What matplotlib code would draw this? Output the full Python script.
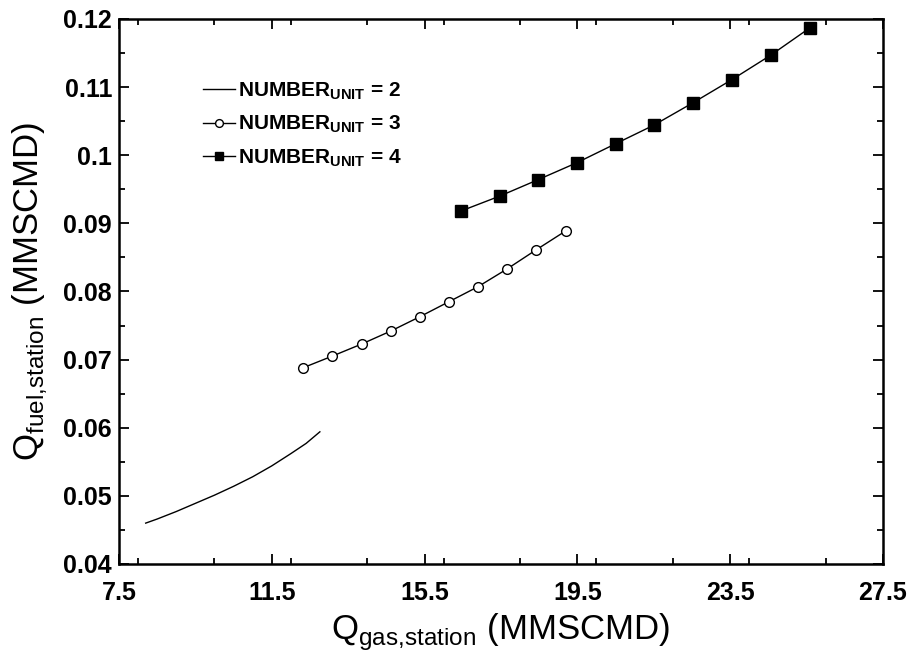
import matplotlib
matplotlib.use("Agg")
import matplotlib.pyplot as plt
from matplotlib.ticker import MultipleLocator, FixedLocator

plt.rcParams['font.family'] = ['Liberation Sans', 'DejaVu Sans']
plt.rcParams['mathtext.fontset'] = 'custom'
plt.rcParams['mathtext.rm'] = 'Liberation Sans'
plt.rcParams['mathtext.bf'] = 'Liberation Sans:bold'

# Series data
x_unit2 = [8.2, 8.5, 9.0, 9.5, 10.0, 10.5, 11.0, 11.5, 12.0, 12.4, 12.76]
y_unit2 = [0.0460, 0.0466, 0.0477, 0.0489, 0.0501, 0.0514, 0.0528, 0.0544, 0.0562, 0.0577, 0.0594]

x_unit3 = [12.32, 13.08, 13.86, 14.62, 15.38, 16.14, 16.90, 17.66, 18.42, 19.20]
y_unit3 = [0.0688, 0.0705, 0.0723, 0.0742, 0.0763, 0.0785, 0.0807, 0.0833, 0.0861, 0.0889]

x_unit4 = [16.45, 17.47, 18.47, 19.49, 20.51, 21.50, 22.53, 23.55, 24.57, 25.59]
y_unit4 = [0.0918, 0.0940, 0.0964, 0.0989, 0.1017, 0.1044, 0.1077, 0.1111, 0.1147, 0.1187]

x_ticks = [7.5, 11.5, 15.5, 19.5, 23.5, 27.5]
y_ticks = [0.04, 0.05, 0.06, 0.07, 0.08, 0.09, 0.1, 0.11, 0.12]
y_tick_labels = ['0.04', '0.05', '0.06', '0.07', '0.08', '0.09', '0.1', '0.11', '0.12']

labels = [r'NUMBER$_{\mathbf{UNIT}}$ = 2', r'NUMBER$_{\mathbf{UNIT}}$ = 3', r'NUMBER$_{\mathbf{UNIT}}$ = 4']

fig = plt.figure(figsize=(9.13, 6.53), dpi=100)
ax = fig.add_axes([0.1303, 0.1363, 0.8367, 0.8347])

ax.plot(x_unit2, y_unit2, color='black', lw=1.0, label=labels[0])
ax.plot(x_unit3, y_unit3, color='black', lw=1.0, marker='o', markersize=7,
        markerfacecolor='white', markeredgecolor='black', markeredgewidth=1.0, label=labels[1])
ax.plot(x_unit4, y_unit4, color='black', lw=1.0, marker='s', markersize=8,
        markerfacecolor='black', markeredgecolor='black', label=labels[2])

ax.set_xlim(7.5, 27.5)
ax.set_ylim(0.04, 0.12)
ax.xaxis.set_major_locator(FixedLocator(x_ticks))
ax.xaxis.set_minor_locator(MultipleLocator(2))
ax.set_yticks(y_ticks)
ax.set_yticklabels(y_tick_labels)
ax.yaxis.set_minor_locator(MultipleLocator(0.005))

ax.tick_params(which='both', direction='in', top=True, right=True, width=1.3)
ax.tick_params(which='major', length=7, labelsize=18)
ax.tick_params(axis='x', which='major', pad=12)
ax.tick_params(axis='y', which='major', pad=5)
ax.tick_params(which='minor', length=4)
for lab in ax.get_xticklabels() + ax.get_yticklabels():
    lab.set_fontweight('bold')
for s in ax.spines.values():
    s.set_linewidth(1.8)

ax.set_xlabel(r'Q$_{\mathrm{gas{,}station}}$ (MMSCMD)', fontsize=25, labelpad=5)
ax.set_ylabel(r'Q$_{\mathrm{fuel{,}station}}$ (MMSCMD)', fontsize=25, labelpad=10)

leg = ax.legend(loc='upper left', bbox_to_anchor=(0.099, 0.903), frameon=False,
                prop={'size': 15, 'weight': 'bold'}, handlelength=1.55, handletextpad=0.15,
                labelspacing=0.58, borderaxespad=0, markerscale=0.8)

fig.savefig('out.png', dpi=100)
